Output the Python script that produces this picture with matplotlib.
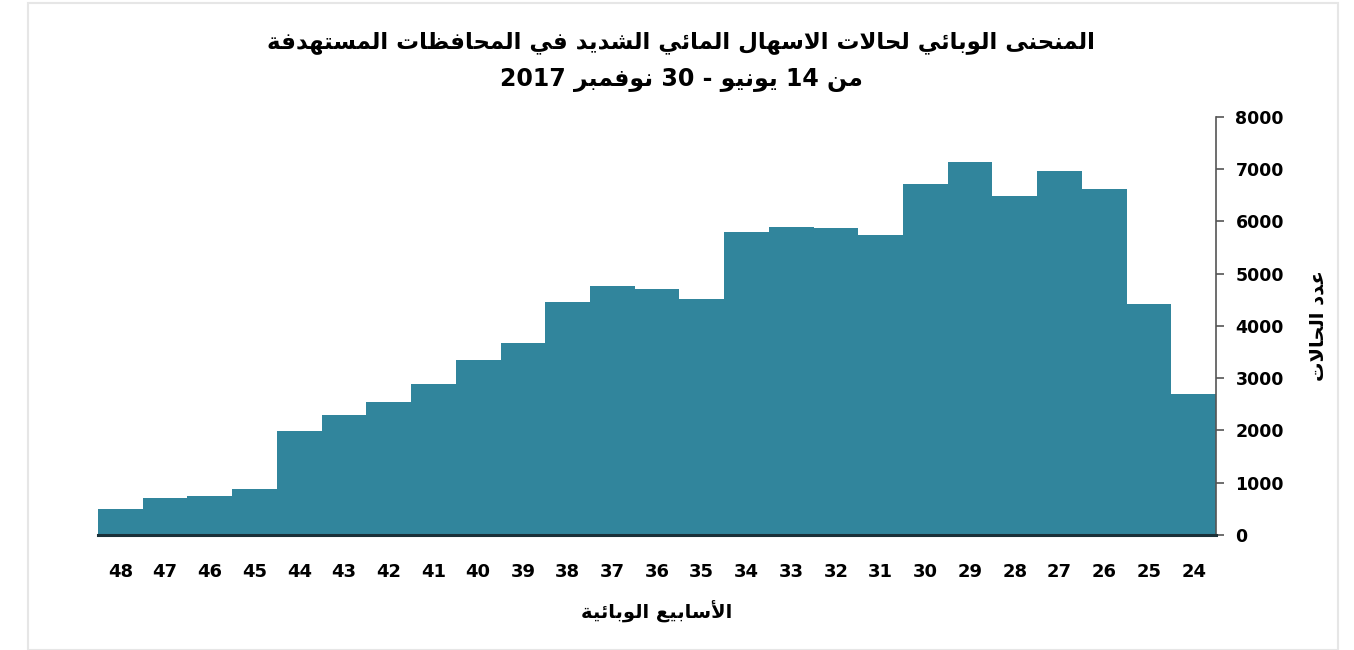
import matplotlib
matplotlib.use("Agg")
import matplotlib.pyplot as plt
from matplotlib.patches import Rectangle

# Epidemiological weeks, left to right as drawn (48 ... 24)
WEEKS = [48, 47, 46, 45, 44, 43, 42, 41, 40, 39, 38, 37, 36, 35, 34, 33,
         32, 31, 30, 29, 28, 27, 26, 25, 24]
CASES = [500, 710, 750, 880, 1990, 2300, 2550, 2890, 3350, 3670, 4460, 4770,
         4710, 4520, 5800, 5890, 5870, 5740, 6720, 7140, 6490, 6970, 6620,
         4420, 2700]
Y_TICKS = [0, 1000, 2000, 3000, 4000, 5000, 6000, 7000, 8000]

TITLE_1 = "المنحنى الوبائي لحالات الاسهال المائي الشديد في المحافظات المستهدفة"
TITLE_2 = "من 14 يونيو - 30 نوفمبر 2017"
X_LABEL = "الأسابيع الوبائية"
Y_LABEL = "عدد الحالات"

BAR_COLOR = "#31859C"

# --- minimal Arabic shaping (matplotlib does no shaping / bidi) ---
FOUR_FORM = {
    "ئ": 0xFE89, "ب": 0xFE8F, "ت": 0xFE95, "ث": 0xFE99, "ج": 0xFE9D,
    "ح": 0xFEA1, "خ": 0xFEA5, "س": 0xFEB1, "ش": 0xFEB5, "ص": 0xFEB9,
    "ض": 0xFEBD, "ط": 0xFEC1, "ظ": 0xFEC5, "ع": 0xFEC9, "غ": 0xFECD,
    "ف": 0xFED1, "ق": 0xFED5, "ك": 0xFED9, "ل": 0xFEDD, "م": 0xFEE1,
    "ن": 0xFEE5, "ه": 0xFEE9, "ي": 0xFEF1,
}
TWO_FORM = {
    "آ": 0xFE81, "أ": 0xFE83, "ؤ": 0xFE85, "إ": 0xFE87, "ا": 0xFE8D,
    "ة": 0xFE93, "د": 0xFEA9, "ذ": 0xFEAB, "ر": 0xFEAD, "ز": 0xFEAF,
    "و": 0xFEED, "ى": 0xFEEF,
}
LAM_ALEF = {"ا": 0xFEFB, "أ": 0xFEF7, "آ": 0xFEF5, "إ": 0xFEF9}


def shape_word(word: str) -> str:
    out = []
    i = 0
    prev_joins = False
    while i < len(word):
        c = word[i]
        nxt = word[i + 1] if i + 1 < len(word) else ""
        if c == "ل" and nxt in LAM_ALEF:
            out.append(chr(LAM_ALEF[nxt] + (1 if prev_joins else 0)))
            prev_joins = False
            i += 2
            continue
        if c in FOUR_FORM:
            next_joins = nxt in FOUR_FORM or nxt in TWO_FORM
            base = FOUR_FORM[c]
            if prev_joins and next_joins:
                out.append(chr(base + 3))
            elif prev_joins:
                out.append(chr(base + 1))
            elif next_joins:
                out.append(chr(base + 2))
            else:
                out.append(chr(base))
            prev_joins = True
        elif c in TWO_FORM:
            out.append(chr(TWO_FORM[c] + (1 if prev_joins else 0)))
            prev_joins = False
        else:
            out.append(c)
            prev_joins = False
        i += 1
    return "".join(out)


def rtl(text: str) -> str:
    tokens = text.split(" ")
    visual = []
    for tok in reversed(tokens):
        if any("\u0600" <= ch <= "\u06FF" for ch in tok):
            visual.append(shape_word(tok)[::-1])
        else:
            visual.append(tok)
    return " ".join(visual)


def main() -> None:
    plt.rcParams["font.family"] = ["DejaVu Sans"]

    fig = plt.figure(figsize=(13.54, 6.5), dpi=100)
    fig.patches.append(Rectangle((0.021, 0.0), 0.967, 0.995, transform=fig.transFigure,
                                 fill=False, edgecolor="#e6e6e6", linewidth=1.5))

    ax = fig.add_axes([0.0724, 0.177, 0.8257, 0.643])
    x = list(range(len(WEEKS)))
    ax.bar(x, CASES, width=1.0, color=BAR_COLOR, edgecolor="none")

    ax.set_xlim(-0.5, len(WEEKS) - 0.5)
    ax.set_ylim(0, 8000)
    ax.set_xticks(x)
    ax.set_xticklabels([str(w) for w in WEEKS], fontsize=13, fontweight="bold")
    ax.tick_params(axis="x", length=0, pad=20)

    ax.yaxis.tick_right()
    ax.set_yticks(Y_TICKS)
    ax.set_yticklabels([str(v) for v in Y_TICKS], fontsize=12.5, fontweight="bold")
    ax.tick_params(axis="y", direction="out", length=6, width=1.2, color="#555555", pad=8)

    for side in ("left", "top"):
        ax.spines[side].set_visible(False)
    ax.spines["right"].set_color("#555555")
    ax.spines["right"].set_linewidth(1.2)
    ax.spines["bottom"].set_color("#1a3038")
    ax.spines["bottom"].set_linewidth(2.2)

    ax.set_xlabel(rtl(X_LABEL), fontsize=14, fontweight="bold", labelpad=14)
    ax.yaxis.set_label_position("right")
    ax.set_ylabel(rtl(Y_LABEL), fontsize=14, fontweight="bold", rotation=90, labelpad=18)

    fig.text(0.503, 0.935, rtl(TITLE_1), ha="center", va="center",
             fontsize=16.5, fontweight="bold")
    fig.text(0.503, 0.877, rtl(TITLE_2), ha="center", va="center",
             fontsize=17, fontweight="bold")

    fig.savefig("out.png", dpi=100, facecolor="white")
    plt.close(fig)


if __name__ == "__main__":
    main()
